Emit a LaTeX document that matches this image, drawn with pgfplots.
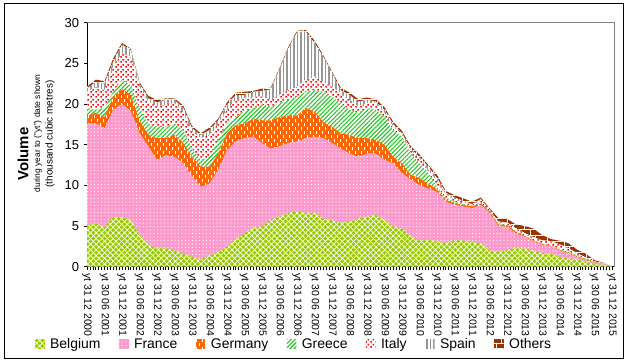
\documentclass[border=0pt]{standalone}
\usepackage{fontspec}
\setmainfont{Liberation Sans}
\usepackage{pgfplots}
\pgfplotsset{compat=1.18}
\usepackage{pgfplotstable}
\usetikzlibrary{patterns,patterns.meta}

\definecolor{cBE}{RGB}{153,204,0}
\definecolor{cFR}{RGB}{255,153,204}
\definecolor{cDE}{RGB}{255,102,0}
\definecolor{cGR}{RGB}{40,200,40}
\definecolor{cIT}{RGB}{255,0,0}
\definecolor{cES}{RGB}{150,150,150}
\definecolor{cOT}{RGB}{153,51,0}

\pgfdeclarepatternformonly{vdash}{\pgfqpoint{-1bp}{-1bp}}{\pgfqpoint{7bp}{9bp}}{\pgfqpoint{6bp}{8bp}}{%
  \pgfsetlinewidth{1.1bp}
  \pgfpathmoveto{\pgfqpoint{1.5bp}{0.5bp}}\pgfpathlineto{\pgfqpoint{1.5bp}{3.5bp}}
  \pgfpathmoveto{\pgfqpoint{4.5bp}{4.5bp}}\pgfpathlineto{\pgfqpoint{4.5bp}{7.5bp}}
  \pgfusepath{stroke}}
\pgfdeclarepatternformonly{redsq}{\pgfqpoint{0bp}{0bp}}{\pgfqpoint{5bp}{5bp}}{\pgfqpoint{5bp}{5bp}}{%
  \pgfpathrectangle{\pgfqpoint{0.4bp}{0.4bp}}{\pgfqpoint{1.8bp}{1.8bp}}
  \pgfpathrectangle{\pgfqpoint{2.9bp}{2.9bp}}{\pgfqpoint{1.8bp}{1.8bp}}
  \pgfusepath{fill}}

\pgfplotstableread{
m be fr de gr it es ot
0 5.1 12.5 1.0 0.9 2.0 0.4 0.2
3 5.3 12.3 1.3 0.4 2.8 0.6 0.3
6 4.9 12.1 1.4 1.1 2.2 0.8 0.3
9 6.1 13.2 1.6 0.6 3.1 0.6 0.4
12 6.1 13.9 1.9 1.1 3.2 1.1 0.2
15 5.7 13.4 2.0 1.2 3.5 0.8 0.2
18 3.9 12.5 1.6 1.5 2.6 0.4 0.2
21 2.7 12.1 1.4 1.4 2.7 0.4 0.3
24 2.25 10.85 2.7 1.4 2.5 0.5 0.3
27 2.3 11.4 2.1 1.4 2.7 0.6 0.2
30 2.0 11.5 2.7 1.4 2.5 0.4 0.2
33 1.6 11.1 2.5 1.6 2.1 0.6 0.3
36 1.2 9.9 2.4 1.0 2.1 0.4 0.3
39 0.9 8.9 2.5 0.8 2.7 0.4 0.2
42 1.4 8.8 2.1 1.2 2.7 0.6 0.3
45 1.8 10.1 2.0 1.7 2.0 0.4 0.2
48 2.5 11.8 2.1 1.2 1.7 0.6 0.3
51 3.3 12.1 2.0 1.0 2.1 0.6 0.3
54 4.1 11.7 1.8 1.5 1.6 0.4 0.4
57 4.8 11.2 2.2 1.3 1.4 0.6 0.1
60 4.9 10.3 2.8 1.9 1.0 0.7 0.3
63 5.8 8.7 3.5 1.7 0.8 1.3 0.2
66 6.1 8.7 3.6 1.7 1.0 3.1 0.2
69 6.6 8.6 3.4 1.9 1.2 5.1 0.2
72 6.8 8.6 3.2 2.3 1.2 6.7 0.2
75 6.6 9.2 3.7 2.0 1.5 5.9 0.2
78 6.6 9.4 3.1 2.6 1.7 4.1 0.3
81 5.9 9.9 2.0 3.7 1.2 3.1 0.2
84 5.7 9.5 2.0 3.7 1.2 1.7 0.2
87 5.4 9.1 1.9 3.7 1.2 0.4 0.3
90 5.5 8.4 2.3 3.1 1.2 0.6 0.3
93 5.9 7.6 2.3 3.1 0.8 0.6 0.3
96 6.1 7.8 1.9 3.7 0.6 0.4 0.3
99 6.4 7.5 1.7 3.7 0.8 0.2 0.3
102 5.7 7.4 1.9 3.4 0.5 0.4 0.3
105 4.9 7.8 0.8 3.3 0.4 0.3 0.3
108 4.7 6.8 1.2 3.3 0.2 0.2 0.3
111 3.7 7.0 0.6 2.6 0.4 0.2 0.3
114 3.2 6.8 0.9 1.8 0.6 0.2 0.3
117 3.3 6.3 0.6 1.3 0.4 0.4 0.2
120 3.1 6.1 0.3 0.3 0.7 0.4 0.4
123 2.9 5.1 0.2 0.2 0.5 0.2 0.2
126 3.3 4.3 0.2 0.2 0.3 0.2 0.3
129 3.2 4.2 0.2 0.1 0.3 0.1 0.3
132 3.0 4.2 0.2 0.1 0.1 0.1 0.3
135 2.9 4.7 0.2 0.1 0.3 0.1 0.2
138 2.0 4.6 0.2 0.0 0.2 0.05 0.15
141 1.8 3.2 0.2 0.1 0.2 0.05 0.45
144 2.1 2.8 0.2 0.1 0.2 0.05 0.45
147 2.3 1.8 0.2 0.1 0.3 0.05 0.45
150 2.25 1.45 0.1 0.05 0.25 0.05 0.85
153 2.0 1.1 0.1 0.05 0.35 0.05 1.05
156 1.7 1.0 0.1 0.05 0.35 0.05 0.65
159 1.6 0.9 0.05 0.05 0.5 0.05 0.25
162 1.2 0.8 0.1 0.1 0.5 0.05 0.45
165 1.0 0.6 0.1 0.1 0.45 0.05 0.6
168 0.9 0.3 0.1 0.1 0.2 0.05 0.45
171 0.6 0.2 0.1 0.1 0.1 0.05 0.45
174 0.3 0.2 0.05 0.05 0.0 0.05 0.15
177 0.2 0.1 0.05 0.05 0.0 0.05 0.05
180 0 0 0 0 0 0 0
}\data

\begin{document}
\begin{tikzpicture}
\useasboundingbox (0,0) rectangle (628bp,363bp);
\draw[line width=1bp] (4.5bp,4.7bp) rectangle (623bp,359bp);
\node[rotate=90, anchor=base, font=\bfseries\fontsize{15}{18}\selectfont] at (28.3bp,209bp) {Volume};
\node[rotate=90, anchor=base, font=\fontsize{8.5}{10}\selectfont] at (40bp,229.5bp) {during year to ("yt") date shown};
\node[rotate=90, anchor=base, font=\fontsize{10}{12}\selectfont] at (52.5bp,229bp) {(thousand cubic metres)};
\begin{axis}[
  at={(87bp,96.3bp)}, anchor=south west,
  width=527bp, height=244bp, scale only axis,
  xmin=0, xmax=180.7, ymin=0, ymax=30,
  stack plots=y,
  xtick={0,6,...,180},
  minor xtick={0,1,...,180},
  xticklabels={yt 31 12 2000, yt 30 06 2001, yt 31 12 2001, yt 30 06 2002, yt 31 12 2002, yt 30 06 2003, yt 31 12 2003, yt 30 06 2004, yt 31 12 2004, yt 30 06 2005, yt 31 12 2005, yt 30 06 2006, yt 31 12 2006, yt 30 06 2007, yt 31 12 2007, yt 30 06 2008, yt 31 12 2008, yt 30 06 2009, yt 31 12 2009, yt 30 06 2010, yt 31 12 2010, yt 30 06 2011, yt 31 12 2011, yt 30 06 2012, yt 31 12 2012, yt 30 06 2013, yt 31 12 2013, yt 30 06 2014, yt 31 12 2014, yt 30 06 2015, yt 31 12 2015},
  ytick={0,5,...,30},
  tick pos=left,
  tick align=outside,
  major tick length=3bp, minor tick length=3bp,
  every tick/.style={black, line width=0.6bp},
  /pgf/number format/assume math mode=true,
  yticklabel style={font=\fontsize{13}{15}\selectfont, xshift=-1.5bp},
  xticklabel style={rotate=-90, anchor=west, font=\fontsize{10.5}{12}\selectfont, inner sep=0bp, outer sep=3.5bp},
  axis line style={line width=0.9bp},
  extra description/.code={\draw[gray, line width=1bp] (rel axis cs:0,1) -- (rel axis cs:1,1) -- (rel axis cs:1,0);},
  legend columns=7,
  legend style={at={(-0.0987,-0.3168)}, anchor=west, draw=none, fill=none, inner sep=0pt,
    font=\fontsize{14}{16}\selectfont,
    /tikz/every even column/.append style={column sep=16.5bp}},
  legend image code/.code={\path[#1] (0bp,-4.5bp) rectangle (9.5bp,4.5bp); \path (13bp,0bp);},
]
\addplot[draw=none, fill=cBE, postaction={pattern={Lines[angle=45,distance=4bp,line width=0.7bp]}, pattern color=white}, postaction={pattern={Lines[angle=-45,distance=4bp,line width=0.7bp]}, pattern color=white}] table[x=m,y=be] {\data} \closedcycle;
\addlegendentry{Belgium}
\addplot[draw=none, fill=cFR, postaction={pattern={Dots[distance=3.5bp,radius=0.55bp]}, pattern color=white}] table[x=m,y=fr] {\data} \closedcycle;
\addlegendentry{France}
\addplot[draw=none, fill=cDE, postaction={pattern=vdash, pattern color=white}] table[x=m,y=de] {\data} \closedcycle;
\addlegendentry{Germany}
\addplot[draw=none, fill=white, postaction={pattern={Lines[angle=45,distance=3bp,line width=1.1bp]}, pattern color=cGR}] table[x=m,y=gr] {\data} \closedcycle;
\addlegendentry{Greece}
\addplot[draw=none, fill=white, postaction={pattern=redsq, pattern color=cIT}] table[x=m,y=it] {\data} \closedcycle;
\addlegendentry{Italy}
\addplot[draw=none, fill=white, postaction={pattern={Lines[angle=90,distance=3.5bp,line width=1.7bp]}, pattern color=cES}] table[x=m,y=es] {\data} \closedcycle;
\addlegendentry{Spain}
\addplot[draw=none, fill=cOT, postaction={pattern=bricks, pattern color=white}] table[x=m,y=ot] {\data} \closedcycle;
\addlegendentry{Others}
\end{axis}
\end{tikzpicture}
\end{document}
